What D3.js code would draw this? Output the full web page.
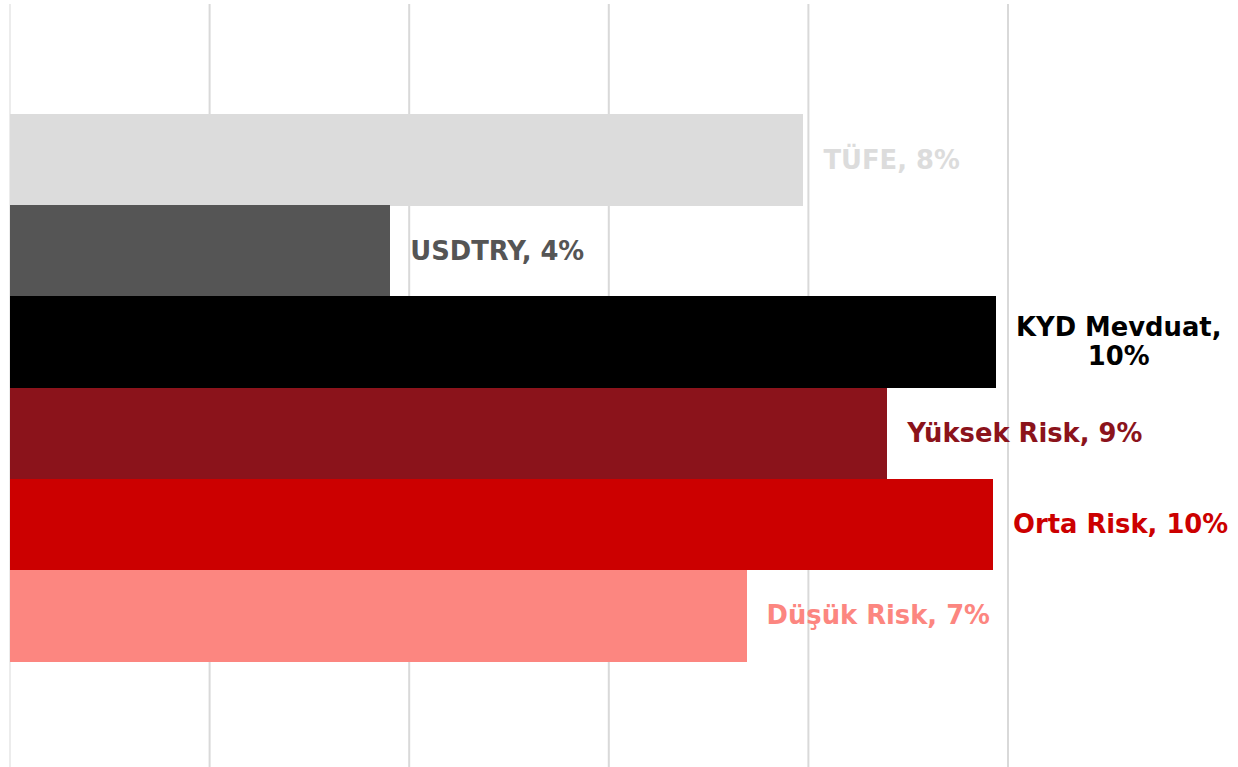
<!DOCTYPE html>
<html>
<head>
<meta charset="utf-8">
<script src="https://cdn.jsdelivr.net/npm/d3@7"></script>
<style>
  body { margin: 0; background: #fff; }
  text { font-family: "DejaVu Sans", sans-serif; font-weight: bold; }
</style>
</head>
<body>
<div id="chart"></div>
<script>
// categories, top to bottom
const categories = ["TÜFE", "USDTRY", "KYD Mevduat", "Yüksek Risk", "Orta Risk", "Düşük Risk"];
// returns in %
const values = [7.95, 3.81, 9.88, 8.79, 9.85, 7.38];
const colors = ["#dcdcdc", "#555555", "#000000", "#8b131b", "#cc0000", "#fc8680"];
// label lines (KYD wraps onto two lines)
const labelLines = [
  ["TÜFE, 8%"],
  ["USDTRY, 4%"],
  ["KYD Mevduat,", "10%"],
  ["Yüksek Risk, 9%"],
  ["Orta Risk, 10%"],
  ["Düşük Risk, 7%"]
];
const gridTicks = [0, 2, 4, 6, 8, 10];

let width = 1238;
let height = 767;
let fontSize = "25.8px";

let svg = d3.select("#chart").append("svg")
    .attr("width", width)
    .attr("height", height);

// set the ranges
let x = d3.scaleLinear().domain([0, 10]).range([10, 1008]);
let y = d3.scaleBand().domain(categories).range([114, 661]).padding(0);

// vertical gridlines
svg.append("g")
    .selectAll("line")
    .data(gridTicks)
    .join("line")
    .attr("x1", d => x(d))
    .attr("x2", d => x(d))
    .attr("y1", 4)
    .attr("y2", height)
    .attr("stroke", "#d9d9d9")
    .attr("stroke-width", d => d === 0 ? 1 : 2);

// bars
svg.append("g")
    .attr("shape-rendering", "crispEdges")
    .selectAll("rect")
    .data(categories)
    .join("rect")
    .attr("x", x(0))
    .attr("y", d => y(d))
    .attr("width", (d, i) => x(values[i]) - x(0))
    .attr("height", y.bandwidth() + 0.5)
    .attr("fill", (d, i) => colors[i]);

// labels at end of bars
categories.forEach(function (c, i) {
    let lines = labelLines[i];
    let cy = y(c) + y.bandwidth() / 2;
    let t = svg.append("text")
        .attr("fill", colors[i])
        .style("font-size", fontSize)
        .attr("dominant-baseline", "central");
    if (lines.length === 1) {
        t.attr("x", x(values[i]) + 20)
            .attr("y", cy)
            .text(lines[0]);
    } else {
        // measure widest line so the block starts 20px right of the bar
        let probe = svg.append("text").style("font-size", fontSize).text(lines[0]);
        let w = probe.node().getComputedTextLength();
        probe.remove();
        let cx = x(values[i]) + 20 + w / 2;
        t.attr("text-anchor", "middle");
        lines.forEach(function (l, j) {
            t.append("tspan")
                .attr("x", cx)
                .attr("y", cy + (j - (lines.length - 1) / 2) * 29)
                .text(l);
        });
    }
});
</script>
</body>
</html>
